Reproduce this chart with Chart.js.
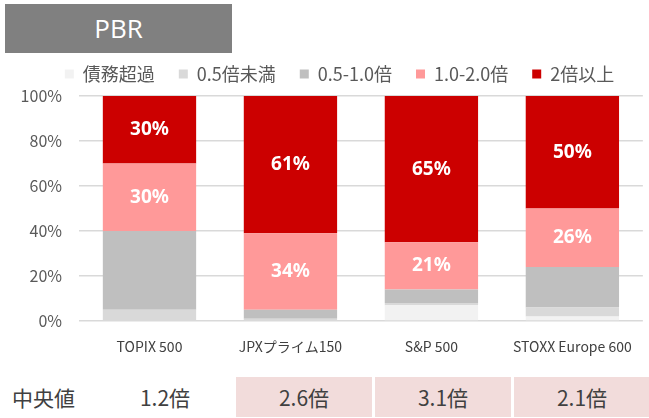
<!DOCTYPE html>
<html>
<head>
<meta charset="utf-8">
<script src="https://cdn.jsdelivr.net/npm/chart.js@4"></script>
<style>
    body { margin: 0; background: #fff; width: 649px; height: 418px; position: relative; overflow: hidden; font-family: 'Noto Sans CJK JP', 'Noto Sans', sans-serif; }
    #titleBox { position: absolute; left: 5px; top: 4px; width: 227px; height: 49px; background: #808080; color: #fff; font: 26px 'Open Sans', 'Noto Sans', sans-serif; line-height: 49px; text-align: center; }
    #chartWrap { position: absolute; left: 0; top: 0; width: 649px; height: 365px; }
    .cell { position: absolute; top: 377px; width: 136px; height: 40px; line-height: 40px; text-align: center; font-size: 21px; color: #404040; }
    #medLabel { position: absolute; left: 12px; top: 377px; height: 40px; line-height: 40px; font-size: 21px; color: #404040; }
</style>
</head>
<body>
<div id="titleBox">PBR</div>
<div id="chartWrap"><canvas id="pbrChart"></canvas></div>
<div id="medLabel">中央値</div>

<script>
// categories and values (percent of companies)
var categories = ['TOPIX 500', 'JPXプライム150', 'S&P 500', 'STOXX Europe 600'];
var seriesNames = ['債務超過', '0.5倍未満', '0.5-1.0倍', '1.0-2.0倍', '2倍以上'];
var negEquity = [0, 0, 7, 2];
var under05 = [5, 1, 1, 4];
var from05to10 = [35, 4, 6, 18];
var from10to20 = [30, 34, 21, 26];
var over20 = [30, 61, 65, 50];
var medians = ['1.2倍', '2.6倍', '3.1倍', '2.1倍'];
var highlighted = [false, true, true, true];
var yTicks = [0, 20, 40, 60, 80, 100];

var colors = ['#F2F2F2', '#D9D9D9', '#BFBFBF', '#FF9999', '#CC0000'];

// median row below the chart
medians.forEach(function (m, i) {
    var d = document.createElement('div');
    d.className = 'cell';
    d.style.left = (97 + i * 139) + 'px';
    if (highlighted[i]) d.style.background = '#F2DCDB';
    d.textContent = m;
    document.body.appendChild(d);
});

var layoutTweaks = {
    id: 'layoutTweaks',
    beforeLayout: function (chart) {
        // fixed legend height so the plot starts where it does in the picture
        var lg = chart.legend;
        if (lg && !lg._fitWrapped) {
            var origFit = lg.fit;
            lg.fit = function () { origFit.call(this); this.height = 55; };
            lg._fitWrapped = true;
        }
    },
    afterLayout: function (chart) {
        // legend is centred a bit right of the canvas middle
        if (chart.legend) chart.legend.left = 32;
    }
};

// white % labels in the middle of the chosen segments
var barLabels = {
    id: 'barLabels',
    afterDatasetsDraw: function (chart) {
        var ctx = chart.ctx;
        ctx.save();
        ctx.font = "bold 19px 'Noto Sans', 'Noto Sans CJK JP', sans-serif";
        ctx.fillStyle = '#ffffff';
        ctx.textAlign = 'center';
        ctx.textBaseline = 'middle';
        chart.data.datasets.forEach(function (ds, i) {
            if (!ds.showLabel) return;
            chart.getDatasetMeta(i).data.forEach(function (bar, j) {
                var p = bar.getProps(['x', 'y', 'base'], true);
                ctx.fillText(ds.data[j] + '%', p.x, (p.y + p.base) / 2);
            });
        });
        ctx.restore();
    }
};

Chart.defaults.font.family = "'Noto Sans CJK JP', 'Noto Sans', sans-serif";

var seriesData = [negEquity, under05, from05to10, from10to20, over20];
var datasets = seriesData.map(function (arr, i) {
    return {
        label: seriesNames[i],
        data: arr,
        backgroundColor: colors[i],
        borderWidth: 0,
        barPercentage: 0.662,
        categoryPercentage: 1.0,
        showLabel: i >= 3
    };
});

var ctx = document.getElementById('pbrChart').getContext('2d');
new Chart(ctx, {
    type: 'bar',
    data: { labels: categories, datasets: datasets },
    options: {
        responsive: true,
        maintainAspectRatio: false,
        animation: false,
        layout: { padding: { top: 41, left: 0, right: 2, bottom: 0 } },
        plugins: {
            legend: {
                position: 'top',
                labels: {
                    boxWidth: 9,
                    boxHeight: 9,
                    padding: 24,
                    color: '#595959',
                    font: { size: 18 }
                }
            },
            tooltip: { enabled: false }
        },
        scales: {
            x: {
                stacked: true,
                grid: { display: false, drawTicks: false },
                border: { display: false },
                ticks: { color: '#404040', font: { size: 14 }, padding: 17, maxRotation: 0 },
                afterFit: function (scale) { scale.height = 44; }
            },
            y: {
                stacked: true,
                min: 0,
                max: 100,
                afterBuildTicks: function (scale) {
                    scale.ticks = yTicks.map(function (v) { return { value: v }; });
                },
                grid: { color: '#D9D9D9', lineWidth: 1.5, drawTicks: false },
                border: { display: false },
                ticks: {
                    color: '#595959',
                    font: { size: 16 },
                    padding: 17,
                    callback: function (v) { return v + '%'; }
                },
                afterFit: function (scale) { scale.width = 79; }
            }
        }
    },
    plugins: [layoutTweaks, barLabels]
});
</script>
</body>
</html>
